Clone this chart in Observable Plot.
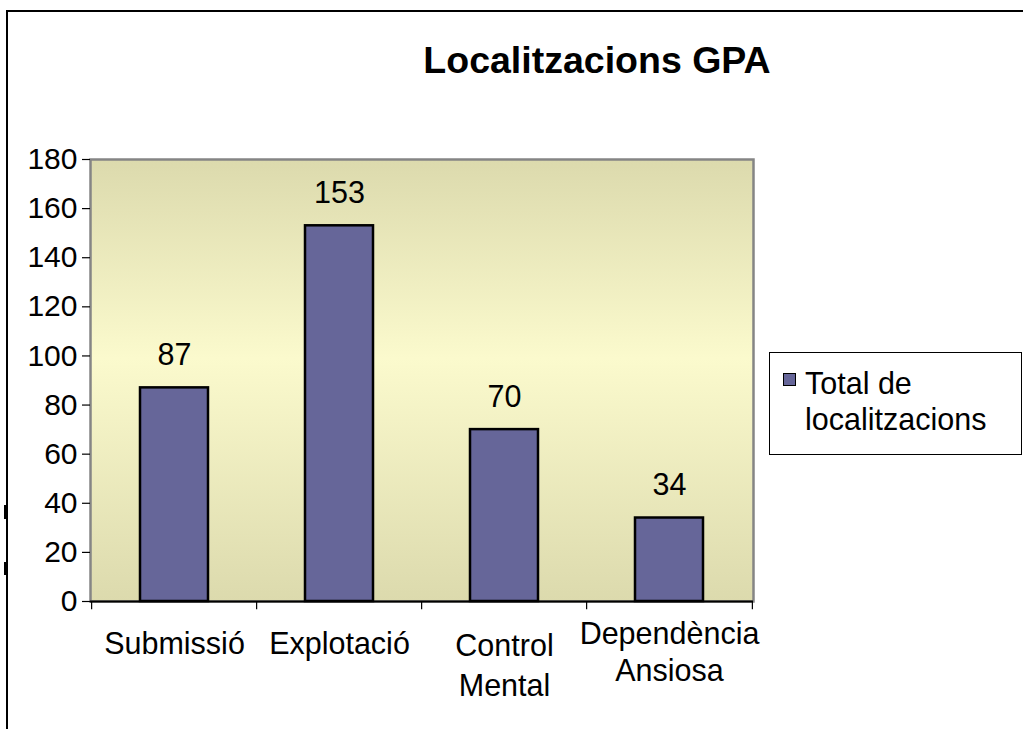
<!DOCTYPE html>
<html>
<head>
<meta charset="utf-8">
<script src="https://cdn.jsdelivr.net/npm/d3@7"></script>
<script src="https://cdn.jsdelivr.net/npm/@observablehq/plot@0.6"></script>
<style>
  html, body { margin: 0; padding: 0; background: #fff; }
  #wrap { position: relative; width: 1023px; height: 729px; overflow: hidden; font-family: "Liberation Sans", Arial, sans-serif; color: #000; }
  #wrap svg { position: absolute; left: 0; top: 0; }
  #outer { position: absolute; left: 6px; top: 10px; right: -10px; bottom: -10px; border-left: 2px solid #000; border-top: 2px solid #000; }
  #title { position: absolute; left: 0; width: 1194px; top: 37px; text-align: center; font-weight: bold; font-size: 37.5px; line-height: 46px; }
  #legend { position: absolute; left: 769px; top: 352px; width: 251px; height: 101px; border: 1.5px solid #000; background: #fff; }
  #legend .sw { position: absolute; left: 13px; top: 20px; width: 11px; height: 11px; border: 1.5px solid #000; background: #666699; }
  #legend .tx { position: absolute; left: 35px; top: 12px; font-size: 30.5px; line-height: 36px; }
  .mark { position: absolute; left: 4px; width: 2px; background: #000; }
</style>
</head>
<body>
<div id="wrap">
  <div id="outer"></div>
  <div class="mark" style="top:505px;height:14px"></div>
  <div class="mark" style="top:562px;height:13px"></div>
  <div id="title"></div>
  <div id="legend"><div class="sw"></div><div class="tx"></div></div>
</div>
<script>
const chartTitle = "Localitzacions GPA";
const seriesName = "Total de\nlocalitzacions";
const categories = ["Submissió", "Explotació", "Control\nMental", "Dependència\nAnsiosa"];
const values = [87, 153, 70, 34];
const yTicks = [0, 20, 40, 60, 80, 100, 120, 140, 160, 180];

const data = categories.map((c, i) => ({cat: c, value: values[i]}));

const W = 1023, H = 729;
const mL = 90, mR = 270, mT = 159, mB = 128;
const step = (W - mL - mR) / categories.length;

document.getElementById("title").textContent = chartTitle;
document.querySelector("#legend .tx").innerHTML = seriesName.split("\n").join("<br>");

const font = "'Liberation Sans', Arial, sans-serif";

const svg = Plot.plot({
  width: W,
  height: H,
  marginLeft: mL,
  marginRight: mR,
  marginTop: mT,
  marginBottom: mB,
  style: {fontFamily: font, fontSize: "30px", color: "#000", background: "transparent", overflow: "visible"},
  x: {domain: categories, paddingInner: 0.59, paddingOuter: 0.295, axis: null},
  y: {domain: [0, 180], axis: null},
  marks: [
    Plot.frame({fill: "url(#bgGrad)", stroke: "#858585", strokeWidth: 2.5}),
    Plot.axisY({ticks: yTicks, tickSize: 8, tickPadding: 5, fontSize: 30, stroke: "#000", strokeWidth: 1.2, fill: "#000", label: null}),
    Plot.ruleY([0], {stroke: "#000", strokeWidth: 2}),
    Plot.ruleX(categories, {x: d => d, y1: 0, y2: -3.4, dx: -step / 2, stroke: "#000", strokeWidth: 1.2}),
    Plot.ruleX(categories.slice(-1), {x: d => d, y1: 0, y2: -3.4, dx: step / 2, stroke: "#000", strokeWidth: 1.2}),
    Plot.barY(data, {x: "cat", y: "value", fill: "#666699", stroke: "#000", strokeWidth: 2.5}),
    Plot.text(data, {x: "cat", y: "value", text: d => String(d.value), lineAnchor: "bottom", dy: -23, fontSize: 30.5, fill: "#000"}),
    Plot.text(data.slice(0, 2), {x: "cat", y: 0, text: "cat", lineAnchor: "middle", dy: 43, fontSize: 30.5, fill: "#000"}),
    Plot.text(data.slice(2, 3), {x: "cat", y: 0, text: "cat", lineAnchor: "middle", dy: 62, lineHeight: 1.28, fontSize: 30.5, fill: "#000"}),
    Plot.text(data.slice(3, 4), {x: "cat", y: 0, text: "cat", lineAnchor: "middle", dy: 49, lineHeight: 1.22, fontSize: 30.5, fill: "#000"})
  ]
});

const defs = d3.select(svg).insert("defs", ":first-child");
const g = defs.append("linearGradient").attr("id", "bgGrad").attr("x1", 0).attr("y1", 0).attr("x2", 0).attr("y2", 1);
g.append("stop").attr("offset", "0%").attr("stop-color", "#dcdaad");
g.append("stop").attr("offset", "45%").attr("stop-color", "#fbfacd");
g.append("stop").attr("offset", "100%").attr("stop-color", "#dcdaad");

document.getElementById("wrap").insertBefore(svg, document.getElementById("title"));
</script>
</body>
</html>
